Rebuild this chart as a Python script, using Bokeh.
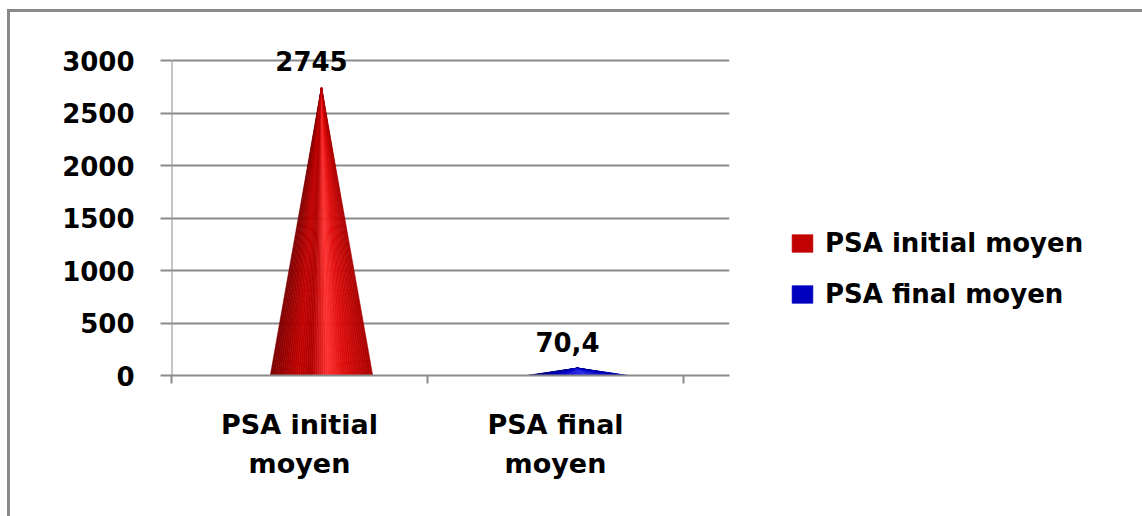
from bokeh.plotting import figure
from bokeh.models import (Range1d, FixedTicker, ColumnDataSource, LabelSet,
                          Legend, LegendItem, LinearAxis)
from bokeh.core.properties import value
from bokeh.embed import file_html
from bokeh.resources import INLINE

# ---- data ----
categories = ["PSA initial moyen", "PSA final moyen"]
values = [2745, 70.4]
value_labels = ["2745", "70,4"]
y_ticks = [0, 500, 1000, 1500, 2000, 2500, 3000]

FONT = "DejaVu Sans"
GRAY = "#8a8a8a"
PX = 0.105  # pixels per unit on y

top_pad = 15 / PX
p = figure(frame_width=558, frame_height=330,
           min_border_left=161, min_border_right=413,
           min_border_top=33, min_border_bottom=141,
           x_range=Range1d(0, 558 / 256),
           y_range=Range1d(0, y_ticks[-1] + top_pad),
           output_backend="svg", toolbar_location=None,
           background_fill_color="white", border_fill_color="white")
p.styles = {"margin-left": "7px", "margin-top": "9px",
            "border-left": "3px solid #8a8a8a", "border-top": "3px solid #8a8a8a"}
p.outline_line_color = None

# grid
p.xgrid.visible = False
p.ygrid.ticker = FixedTicker(ticks=y_ticks)
p.ygrid.grid_line_color = GRAY
p.ygrid.grid_line_width = 2

# y axis
p.yaxis.ticker = FixedTicker(ticks=y_ticks)
p.yaxis.axis_line_color = None
p.yaxis.major_tick_line_color = GRAY
p.yaxis.major_tick_line_width = 2
p.yaxis.major_tick_out = 11
p.yaxis.major_tick_in = 0
p.yaxis.minor_tick_line_color = None
p.yaxis.major_label_standoff = 26
p.yaxis.major_label_text_font = FONT
p.yaxis.major_label_text_font_style = "bold"
p.yaxis.major_label_text_font_size = "26px"
p.yaxis.major_label_text_color = "black"
# vertical axis line only up to the top tick
p.segment(x0=[0], y0=[y_ticks[0]], x1=[0], y1=[y_ticks[-1]],
          line_color=GRAY, line_width=2)

# x axis (category boundaries, tick marks only)
bounds = list(range(len(categories) + 1))
p.xaxis.ticker = FixedTicker(ticks=bounds)
p.xaxis.major_label_overrides = {b: "" for b in bounds}
p.xaxis.major_label_text_font_size = "1px"
p.xaxis.major_label_standoff = 0
p.xaxis.axis_line_color = GRAY
p.xaxis.axis_line_width = 2
p.xaxis.major_tick_line_color = GRAY
p.xaxis.major_tick_line_width = 2
p.xaxis.major_tick_out = 8
p.xaxis.major_tick_in = 0
p.xaxis.minor_tick_line_color = None

# category labels axis
centers = [i + 0.5 for i in range(len(categories))]
cat_axis = LinearAxis(ticker=FixedTicker(ticks=centers),
                      major_label_overrides={c: cat.rsplit(" ", 1)[0] + "\n" + cat.rsplit(" ", 1)[1]
                                             for c, cat in zip(centers, categories)},
                      axis_line_color=None, major_tick_line_color=None,
                      minor_tick_line_color=None, major_tick_out=0, major_tick_in=0,
                      major_label_standoff=25,
                      major_label_text_font=FONT, major_label_text_font_style="bold",
                      major_label_text_font_size="27px", major_label_text_color="black",
                      major_label_text_line_height=1.27)
p.add_layout(cat_axis, "below")

# ---- cones (shaded by vertical strips) ----
depth_offset = 22 / 256
half_w = 0.2
N = 48
LEGEND_T = 0.28  # position on the shading used for the legend swatch

def lerp_color(stops, t):
    for (t0, c0), (t1, c1) in zip(stops[:-1], stops[1:]):
        if t0 <= t <= t1:
            f = (t - t0) / (t1 - t0) if t1 > t0 else 0
            c = [round(a + (b - a) * f) for a, b in zip(c0, c1)]
            return "#%02x%02x%02x" % tuple(c)
    return "#%02x%02x%02x" % tuple(stops[-1][1])

shades = [
    [(0, (125, 0, 0)), (0.28, (194, 2, 2)), (0.4, (176, 0, 0)),
     (0.56, (255, 50, 50)), (0.72, (224, 14, 14)), (1.0, (170, 0, 0))],
    [(0, (0, 0, 130)), (0.28, (0, 0, 192)), (0.56, (40, 40, 235)),
     (1.0, (0, 0, 175))],
]

renderers = []
for i, (v, cat) in enumerate(zip(values, categories)):
    cx = centers[i] + depth_offset
    xs, ys, cols = [], [], []
    for k in range(N):
        x0 = cx - half_w + 2 * half_w * k / N
        x1 = cx - half_w + 2 * half_w * (k + 1) / N
        xs.append([cx, x0, x1])
        ys.append([v, 0, 0])
        cols.append(lerp_color(shades[i], (k + 0.5) / N))
    r = p.patches(xs, ys, fill_color=cols, line_color=cols, line_width=0.6)
    renderers.append(r)

# ---- data labels ----
lab_src = ColumnDataSource(dict(
    x=[c + 12 / 256 for c in centers],
    y=[v + 26 / PX for v in values],
    text=value_labels))
p.add_layout(LabelSet(x="x", y="y", text="text", source=lab_src,
                      text_align="center", text_baseline="middle",
                      text_font=value(FONT), text_font_style="bold",
                      text_font_size="26px", text_color="black"))

# ---- legend ----
items = [LegendItem(label=cat, renderers=[r], index=int(LEGEND_T * N))
         for cat, r in zip(categories, renderers)]
legend = Legend(items=items, location=(60, 66),
                glyph_width=26, glyph_height=22, label_standoff=10,
                label_height=30, spacing=21, padding=0, margin=0,
                label_text_font=FONT, label_text_font_style="bold",
                label_text_font_size="26px", label_text_color="black",
                border_line_color=None, background_fill_alpha=0)
p.add_layout(legend, "right")

open("out.html", "w").write(file_html(p, INLINE))
